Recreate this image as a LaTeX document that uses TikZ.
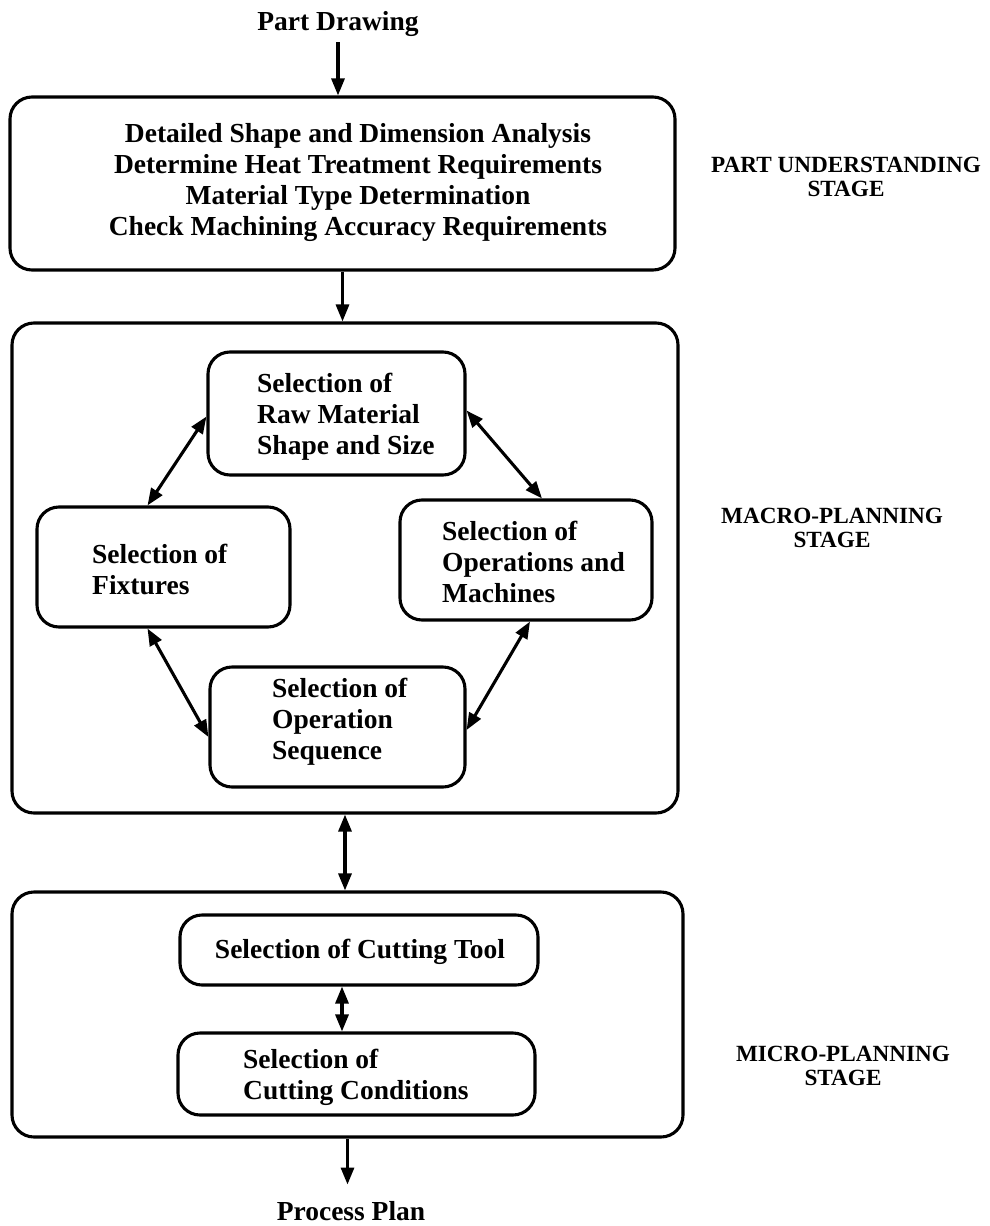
\documentclass[tikz,border=0pt]{standalone}
\usepackage{fontspec}
\setmainfont{Liberation Serif}
\usetikzlibrary{arrows.meta}
\begin{document}
\begin{tikzpicture}[x=1pt,y=-1pt,
  box/.style={draw, line width=3.1pt, rounded corners=22pt, inner sep=0pt},
  txt/.style={inner sep=0pt, font=\fontsize{27.5}{31}\selectfont\bfseries},
  lbl/.style={inner sep=0pt, align=center, font=\fontsize{23.2}{24}\selectfont\bfseries},
  tip/.tip={Triangle[length=17pt,width=13pt]},
  arr/.style={line width=3.1pt, -tip},
  darr/.style={line width=3.1pt, tip-tip}]
\useasboundingbox (0,0) rectangle (990,1226);

% outer stage boxes
\node[box, minimum width=665pt, minimum height=173pt] (top) at (342.5,183.5) {};
\node[box, minimum width=666pt, minimum height=490pt] (macro) at (345,568) {};
\node[box, minimum width=671pt, minimum height=245pt] (micro) at (347.5,1014.5) {};

% inner boxes of the macro-planning stage
\node[box, minimum width=257pt, minimum height=123pt] (raw) at (336.5,413.5) {};
\node[box, minimum width=253pt, minimum height=120pt] (fix) at (163.5,567) {};
\node[box, minimum width=252pt, minimum height=120pt] (ops) at (526,560) {};
\node[box, minimum width=255pt, minimum height=120pt] (seq) at (337.5,727) {};

% inner boxes of the micro-planning stage
\node[box, minimum width=358pt, minimum height=70pt] (tool) at (359,950) {};
\node[box, minimum width=357pt, minimum height=82pt] (cond) at (356.5,1074) {};

% texts (multi-line nodes are placed by the baseline of their last line)
\node[txt, anchor=base] (pd) at (338,30) {Part Drawing};
\node[txt, anchor=base] (pp) at (351,1220) {Process Plan};
\node[txt, align=center, anchor=base] (toptxt) at (358,235.5)
  {Detailed Shape and Dimension Analysis\\Determine Heat Treatment Requirements\\Material Type Determination\\Check Machining Accuracy Requirements};
\node[txt, align=left, anchor=base west] (rawtxt) at (257,454) {Selection of\\Raw Material\\Shape and Size};
\node[txt, align=left, anchor=base west] (fixtxt) at (92,594) {Selection of\\Fixtures};
\node[txt, align=left, anchor=base west] (opstxt) at (442,602) {Selection of\\Operations and\\Machines};
\node[txt, align=left, anchor=base west] (seqtxt) at (272,759) {Selection of\\Operation\\Sequence};
\node[txt, anchor=base] (tooltxt) at (360,958) {Selection of Cutting Tool};
\node[txt, align=left, anchor=base west] (condtxt) at (243,1099) {Selection of\\Cutting Conditions};

% stage labels
\node[lbl, anchor=base] (lab1) at (846,196) {PART UNDERSTANDING\\STAGE};
\node[lbl, anchor=base] (lab2) at (832,547) {MACRO-PLANNING\\STAGE};
\node[lbl, anchor=base] (lab3) at (843,1085) {MICRO-PLANNING\\STAGE};

% connectors
\draw[arr] ([yshift=-12pt]pd.base) -- (pd.base |- top.north);
\draw[arr] (top.south) -- (top.south |- macro.north);
\draw[darr] (macro.south) -- (macro.south |- micro.north);
\draw[darr] ([xshift=-17pt]tool.south) -- ([xshift=-17pt]tool.south |- cond.north);
\draw[arr] (micro.south) -- ([yshift=-46pt]micro.south);

\draw[darr] ([yshift=-3pt]raw.west) -- ([xshift=-16pt]fix.north);
\draw[darr] ([yshift=3pt]raw.east) -- ([xshift=16pt]ops.north);
\draw[darr] ([xshift=-16pt]fix.south) -- ([yshift=-10pt]seq.west);
\draw[darr] ([xshift=4pt]ops.south) -- ([yshift=-3pt]seq.east);
\end{tikzpicture}
\end{document}
